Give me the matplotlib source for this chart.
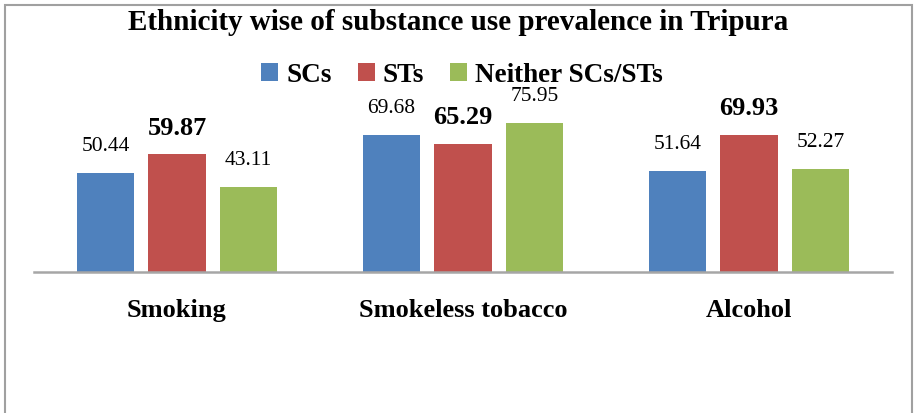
import matplotlib.pyplot as plt
import numpy as np
from matplotlib.patches import Rectangle

categories = ['Smoking', 'Smokeless tobacco', 'Alcohol']
groups = ['SCs', 'STs', 'Neither SCs/STs']
scs = [50.44, 69.68, 51.64]
sts = [59.87, 65.29, 69.93]
neither = [43.11, 75.95, 52.27]
colors = ['#4F81BD', '#C0504D', '#9BBB59']

plt.rcParams['font.family'] = 'Liberation Serif'

fig = plt.figure(figsize=(9.15, 4.13), dpi=100)
ax = fig.add_axes([34 / 915, 1 - 271.5 / 413, (892 - 34) / 915, 172 / 413])

x = np.arange(len(categories))
width = 0.2
offsets = [-0.25, 0, 0.25]
for vals, name, col, off in zip([scs, sts, neither], groups, colors, offsets):
    bars = ax.bar(x + off, vals, width, color=col, label=name)
    for b, v in zip(bars, vals):
        bold = name == 'STs'
        ax.annotate(f'{v:.2f}', (b.get_x() + b.get_width() / 2, v),
                    xytext=(0, 19), textcoords='offset points',
                    ha='center', va='center',
                    fontsize=19 if bold else 15.5,
                    fontweight='bold' if bold else 'normal')

ax.set_xlim(-0.5, 2.5)
ax.set_ylim(0, 88)
ax.set_yticks([])
ax.set_xticks(x)
ax.set_xticklabels(categories, fontsize=19, fontweight='bold')
ax.tick_params(axis='x', length=0, pad=20)
for s in ['top', 'right', 'left']:
    ax.spines[s].set_visible(False)
ax.spines['bottom'].set_color('#A6A6A6')
ax.spines['bottom'].set_linewidth(1.8)

fig.text(458 / 915, 1 - 23 / 413, 'Ethnicity wise of substance use prevalence in Tripura',
         ha='center', va='center', fontsize=21, fontweight='bold')

fig.legend(loc='center', bbox_to_anchor=(462 / 915, 1 - 75 / 413), ncol=3,
           frameon=False, handlelength=0.63, handleheight=0.63,
           handletextpad=0.3, columnspacing=0.95,
           prop={'family': 'Liberation Serif', 'weight': 'bold', 'size': 19.5})

# outer frame of the chart
fig.patches.append(Rectangle((5 / 915, -0.1), 907 / 915, 1.1 - 5 / 413,
                             transform=fig.transFigure, fill=False,
                             edgecolor='#A0A0A0', linewidth=1.5))

fig.savefig('out.png', dpi=100)
